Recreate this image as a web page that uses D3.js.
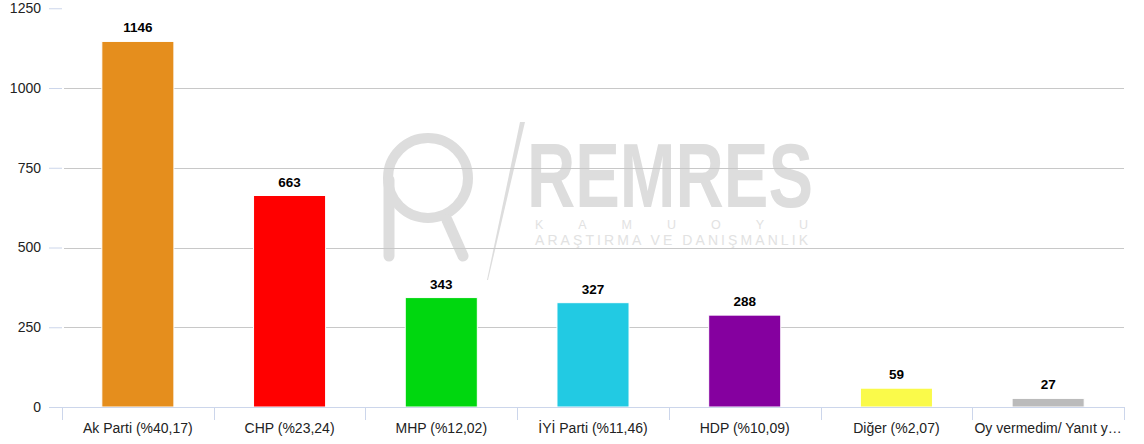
<!DOCTYPE html>
<html><head><meta charset="utf-8">
<script src="https://cdn.jsdelivr.net/npm/d3@7"></script>
<style>body{margin:0;background:#fff;}svg{display:block;font-family:"Liberation Sans",Arial,sans-serif;}</style>
</head><body>
<svg id="c" width="1144" height="444"></svg>
<script>
const categories = ["Ak Parti (%40,17)","CHP (%23,24)","MHP (%12,02)","İYİ Parti (%11,46)","HDP (%10,09)","Diğer (%2,07)","Oy vermedim/ Yanıt y…"];
const values = [1146, 663, 343, 327, 288, 59, 27];
const colors = ["#E58E1D","#FF0000","#00D70F","#22CAE3","#85009F","#FAFA4A","#BBBBBB"];
const yTicks = [0, 250, 500, 750, 1000, 1250];

(function(){
const svg = d3.select("#c");
const left = 62, right = 1124, plotTop = 8.25, bottom = 407;
const x = d3.scaleBand().domain(categories).range([left, right]).paddingInner(0.525).paddingOuter(0.2625);
const y = d3.scaleLinear().domain([0, 1250]).range([bottom, plotTop]);

// watermark
const wc = "#dddddd";
const wm = svg.append("g").attr("fill", "none").attr("stroke", wc);
wm.append("circle").attr("cx", 428).attr("cy", 178).attr("r", 40).attr("stroke-width", 10);
wm.append("line").attr("x1", 389).attr("y1", 180).attr("x2", 389).attr("y2", 256).attr("stroke-width", 11).attr("stroke-linecap","round");
wm.append("line").attr("x1", 447).attr("y1", 220).attr("x2", 463).attr("y2", 256).attr("stroke-width", 11).attr("stroke-linecap","round");
wm.append("path").attr("d", "M520,122 L525,122 L488,280 L487,280 Z").attr("fill", wc).attr("stroke", "none");
const wt = svg.append("g").attr("fill", wc);
wt.append("text").attr("x", 527).attr("y", 207).attr("font-size", 90).attr("font-weight", "bold")
  .attr("textLength", 286).attr("lengthAdjust", "spacingAndGlyphs").text("REMRES");
wt.append("text").attr("x", 535).attr("y", 229).attr("font-size", 12.5).attr("fill","#e2e2e2")
  .attr("textLength", 273).attr("lengthAdjust", "spacing").text("KAMUOYU");
wt.append("text").attr("x", 535).attr("y", 245).attr("font-size", 14).attr("fill","#e2e2e2")
  .attr("textLength", 273).attr("lengthAdjust", "spacing").text("ARAŞTIRMA VE DANIŞMANLIK");

// gridlines (not at top)
svg.append("g").selectAll("line").data(yTicks.filter(d => d > 0 && d < 1250)).join("line")
  .attr("x1", 64).attr("x2", right).attr("y1", d => Math.round(y(d)) + 0.5).attr("y2", d => Math.round(y(d)) + 0.5)
  .attr("stroke", "#c8c8c8").attr("stroke-width", 1);

// y axis ticks + labels
const ya = svg.append("g").attr("transform", `translate(${left},0)`)
  .call(d3.axisLeft(y).tickValues(yTicks).tickFormat(d3.format("d")).tickSize(13).tickPadding(8));
ya.select(".domain").remove();
ya.selectAll(".tick line").attr("stroke", "#ccd6eb");
ya.selectAll(".tick text").attr("font-size", 14).attr("fill", "#222").attr("font-family", "Liberation Sans, Arial, sans-serif");

// bars
svg.append("g").selectAll("rect").data(values).join("rect")
  .attr("x", (d, i) => x(categories[i])).attr("width", x.bandwidth())
  .attr("y", d => y(d)).attr("height", d => y(0) - y(d))
  .attr("fill", (d, i) => colors[i]).attr("stroke", "#fff").attr("stroke-width", 1);

// value labels
svg.append("g").selectAll("text").data(values).join("text")
  .attr("x", (d, i) => x(categories[i]) + x.bandwidth() / 2).attr("y", d => y(d) - 9)
  .attr("text-anchor", "middle").attr("font-size", 13.5).attr("font-weight", "bold").attr("fill", "#000")
  .text(d => d);

// x axis
svg.append("line").attr("x1", 49).attr("x2", right).attr("y1", bottom + 0.5).attr("y2", bottom + 0.5).attr("stroke", "#ccd6eb");
const bounds = d3.range(categories.length + 1).map(i => left + i * x.step());
svg.append("g").selectAll("line").data(bounds).join("line")
  .attr("x1", d => Math.round(d) + 0.5).attr("x2", d => Math.round(d) + 0.5).attr("y1", bottom).attr("y2", bottom + 13)
  .attr("stroke", "#ccd6eb");
svg.append("g").selectAll("text").data(categories).join("text")
  .attr("x", d => x(d) + x.bandwidth() / 2).attr("y", 433)
  .attr("text-anchor", "middle").attr("font-size", 14).attr("fill", "#222").text(d => d);
})();
</script>
</body></html>
